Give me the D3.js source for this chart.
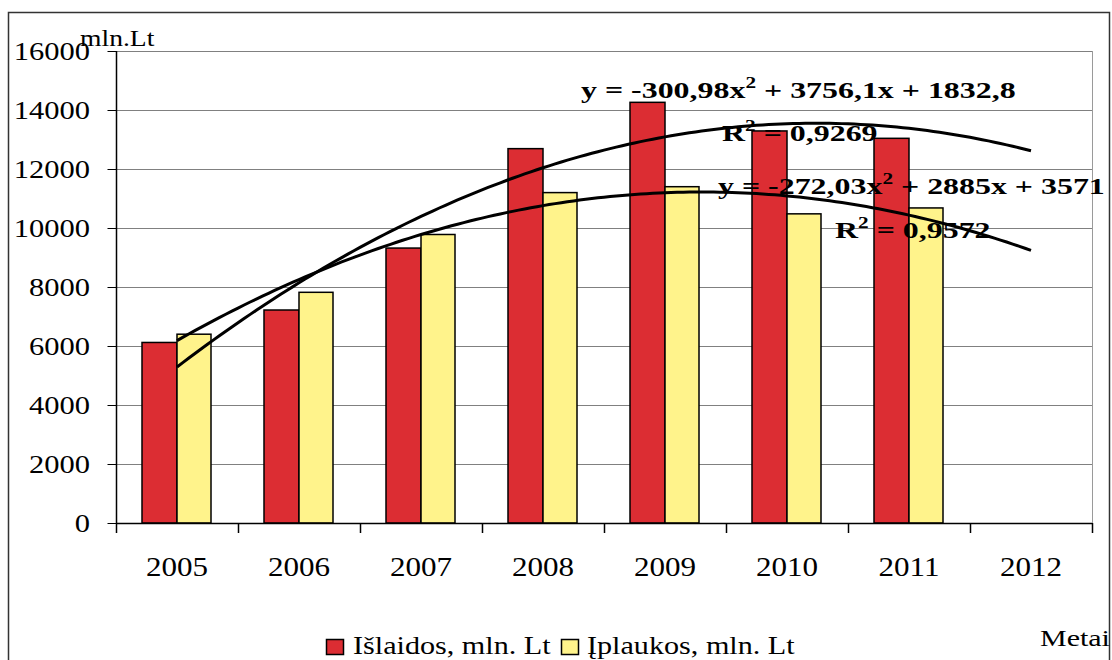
<!DOCTYPE html>
<html>
<head>
<meta charset="utf-8">
<script src="https://cdn.jsdelivr.net/npm/d3@7"></script>
<style>
  body { margin: 0; background: #fff; }
  text { font-family: "Liberation Serif", "Times New Roman", serif; fill: #000; }
</style>
</head>
<body>
<script>
// data
const years = ["2005", "2006", "2007", "2008", "2009", "2010", "2011", "2012"];
const islaidos = [6120, 7220, 9320, 12690, 14260, 13290, 13040, null];
const iplaukos = [6400, 7820, 9780, 11200, 11400, 10480, 10680, null];
const yTicks = [0, 2000, 4000, 6000, 8000, 10000, 12000, 14000, 16000];
// trendline coefficients as printed on the chart (a, b, c for a*x^2 + b*x + c)
const trendIslaidos = [-300.98, 3756.1, 1832.8];
const trendIplaukos = [-272.03, 2885, 3571];

const width = 1112, height = 660;
const plotLeft = 116, plotRight = 1092, plotTop = 51, plotBottom = 523;
const red = "#dc2d33", yellow = "#fff38b";

const svg = d3.select("body").append("svg").attr("width", width).attr("height", height);

// text in the original is stretched horizontally, so each label gets its own x scale
function label(parent, x, y, str, size, sx, anchor) {
  return parent.append("text")
    .attr("transform", "translate(" + x + "," + y + ") scale(" + sx + ",1)")
    .attr("font-size", size)
    .attr("text-anchor", anchor || "start")
    .text(str);
}

// outer frame
svg.append("rect")
  .attr("x", 8.5).attr("y", 12.5).attr("width", 1101).attr("height", 660)
  .attr("fill", "none").attr("stroke", "#333").attr("stroke-width", 1.5);

const xScale = d3.scaleBand().domain(years).range([plotLeft, plotRight]);
const yScale = d3.scaleLinear().domain([0, 16000]).range([plotBottom, plotTop]);

// gridlines
svg.append("g")
  .selectAll("line")
  .data(yTicks.filter(d => d > 0))
  .enter()
  .append("line")
  .attr("x1", plotLeft).attr("x2", plotRight)
  .attr("y1", d => yScale(d) + 0.5).attr("y2", d => yScale(d) + 0.5)
  .attr("stroke", "#808080").attr("stroke-width", 1);

// plot right border
svg.append("line")
  .attr("x1", plotRight + 0.5).attr("x2", plotRight + 0.5)
  .attr("y1", plotTop).attr("y2", plotBottom)
  .attr("stroke", "#9a9a9a");

// bars
const barW = 35;
const offset = 26;
svg.append("g").selectAll("rect")
  .data(islaidos.map((v, i) => ({year: years[i], v})).filter(d => d.v !== null))
  .enter()
  .append("rect")
  .attr("x", d => xScale(d.year) + offset)
  .attr("y", d => yScale(d.v))
  .attr("width", barW)
  .attr("height", d => yScale(0) - yScale(d.v))
  .attr("fill", red).attr("stroke", "#000").attr("stroke-width", 1.5);

svg.append("g").selectAll("rect")
  .data(iplaukos.map((v, i) => ({year: years[i], v})).filter(d => d.v !== null))
  .enter()
  .append("rect")
  .attr("x", d => xScale(d.year) + offset + barW)
  .attr("y", d => yScale(d.v))
  .attr("width", barW - 1)
  .attr("height", d => yScale(0) - yScale(d.v))
  .attr("fill", yellow).attr("stroke", "#000").attr("stroke-width", 1.5);

// trendlines: x = 1 at the 2005 category center, extended one period forward
const xIdx = d3.scaleLinear().domain([1, 8]).range([
  xScale("2005") + xScale.bandwidth() / 2,
  xScale("2012") + xScale.bandwidth() / 2
]);
const samples = d3.range(1, 8.001, 0.05);
const line = d3.line().x(d => xIdx(d[0])).y(d => yScale(d[1]));
[trendIslaidos, trendIplaukos].forEach(c => {
  svg.append("path")
    .datum(samples.map(x => [x, c[0] * x * x + c[1] * x + c[2]]))
    .attr("d", line)
    .attr("fill", "none").attr("stroke", "#000").attr("stroke-width", 3);
});

// y axis
const yAxis = d3.axisLeft(yScale).tickValues(yTicks).tickSize(9).tickFormat("");
const gy = svg.append("g").attr("transform", "translate(" + (plotLeft + 0.5) + ",0)").call(yAxis);
gy.select(".domain").attr("stroke", "#000").attr("stroke-width", 1.5).attr("d", "M0," + plotBottom + "V" + plotTop);
gy.selectAll(".tick line").attr("stroke", "#000");
yTicks.forEach(t => {
  label(svg, 90, yScale(t) + 9, d3.format("d")(t), 25, 1.22, "end");
});

// x axis
svg.append("line")
  .attr("x1", plotLeft).attr("x2", plotRight)
  .attr("y1", plotBottom + 0.5).attr("y2", plotBottom + 0.5)
  .attr("stroke", "#000").attr("stroke-width", 1.5);
svg.append("g").selectAll("line")
  .data(d3.range(years.length + 1))
  .enter()
  .append("line")
  .attr("x1", i => plotLeft + i * xScale.step() + 0.5)
  .attr("x2", i => plotLeft + i * xScale.step() + 0.5)
  .attr("y1", plotBottom).attr("y2", plotBottom + 10)
  .attr("stroke", "#000").attr("stroke-width", 1.5);
years.forEach(y => {
  label(svg, xScale(y) + xScale.bandwidth() / 2, 576, y, 27, 1.15, "middle");
});

// axis titles
label(svg, 80, 46, "mln.Lt", 24, 1.15);
label(svg, 1040, 646, "Metai", 24, 1.25);

// trendline labels
function eqLabel(x, y, parts) {
  const t = label(svg, x, y, "", 24, 1.33).attr("font-weight", "bold");
  parts.forEach(p => {
    const s = t.append("tspan").text(p.t);
    if (p.sup) s.attr("dy", -10).attr("font-size", 16);
    else if (p.after) s.attr("dy", 10);
  });
}
eqLabel(581, 98, [{t: "y = -300,98x"}, {t: "2", sup: true}, {t: " + 3756,1x + 1832,8", after: true}]);
eqLabel(722, 141, [{t: "R"}, {t: "2", sup: true}, {t: " = 0,9269", after: true}]);
eqLabel(718, 194, [{t: "y = -272,03x"}, {t: "2", sup: true}, {t: " + 2885x + 3571", after: true}]);
eqLabel(835, 238, [{t: "R"}, {t: "2", sup: true}, {t: " = 0,9572", after: true}]);

// legend
const legend = svg.append("g").attr("id", "legend");
legend.append("rect").attr("x", 326.5).attr("y", 639.5).attr("width", 17).attr("height", 15)
  .attr("fill", red).attr("stroke", "#000").attr("stroke-width", 1.5);
label(legend, 353, 654, "Išlaidos, mln. Lt", 26, 1.16);
legend.append("rect").attr("x", 561.5).attr("y", 639.5).attr("width", 17).attr("height", 15)
  .attr("fill", yellow).attr("stroke", "#000").attr("stroke-width", 1.5);
label(legend, 587, 654, "Įplaukos, mln. Lt", 26, 1.16);
</script>
</body>
</html>
